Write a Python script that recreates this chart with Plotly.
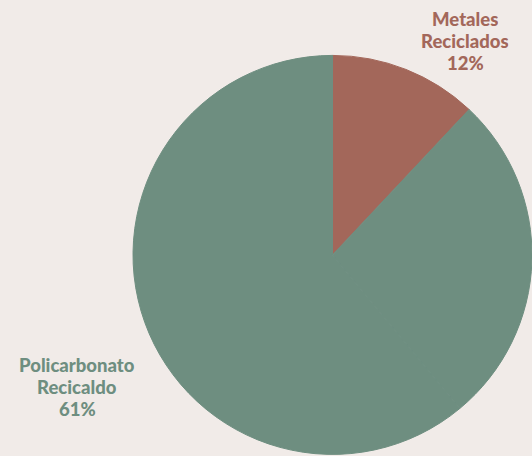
import plotly.graph_objects as go

# Share of recycled material by type (percent)
labels = ["Metales Reciclados", "Otros", "Policarbonato Recicaldo"]
values = [12, 27, 61]
label_lines = [["Metales", "Reciclados"], None, ["Policarbonato", "Recicaldo"]]

green = "#6E8E80"
red = "#A3675A"
colors = [red, green, green]
bg = "#F1EBE8"

W, H = 532, 456

fig = go.Figure(
    go.Pie(
        labels=labels,
        values=values,
        sort=False,
        direction="clockwise",
        rotation=0,
        marker=dict(colors=colors, line=dict(color=colors, width=1)),
        textinfo="none",
        hoverinfo="label+percent",
        showlegend=False,
        domain=dict(x=[0.25, 1.0], y=[0.0, 0.882]),
    )
)

# Label block centres (pixels) and line spacing for the labelled slices
label_pos = {0: (465, 19), 2: (77, 365)}
line_gap = 22
annotations = []
for i, (x, y0) in label_pos.items():
    lines = label_lines[i] + [f"{values[i]}%"]
    for k, t in enumerate(lines):
        annotations.append(
            dict(
                x=x / W, y=1 - (y0 + k * line_gap) / H, xref="paper", yref="paper",
                text=t, showarrow=False, align="center", valign="middle",
                xanchor="center", yanchor="middle",
                height=line_gap - 2, borderpad=0,
                font=dict(family="Lato, Open Sans, sans-serif", size=18.5,
                          weight=900, color=colors[i]),
            )
        )

fig.update_layout(
    width=W, height=H,
    margin=dict(l=0, r=0, t=0, b=0),
    paper_bgcolor=bg, plot_bgcolor=bg,
    annotations=annotations,
)

fig.write_html("out.html")
